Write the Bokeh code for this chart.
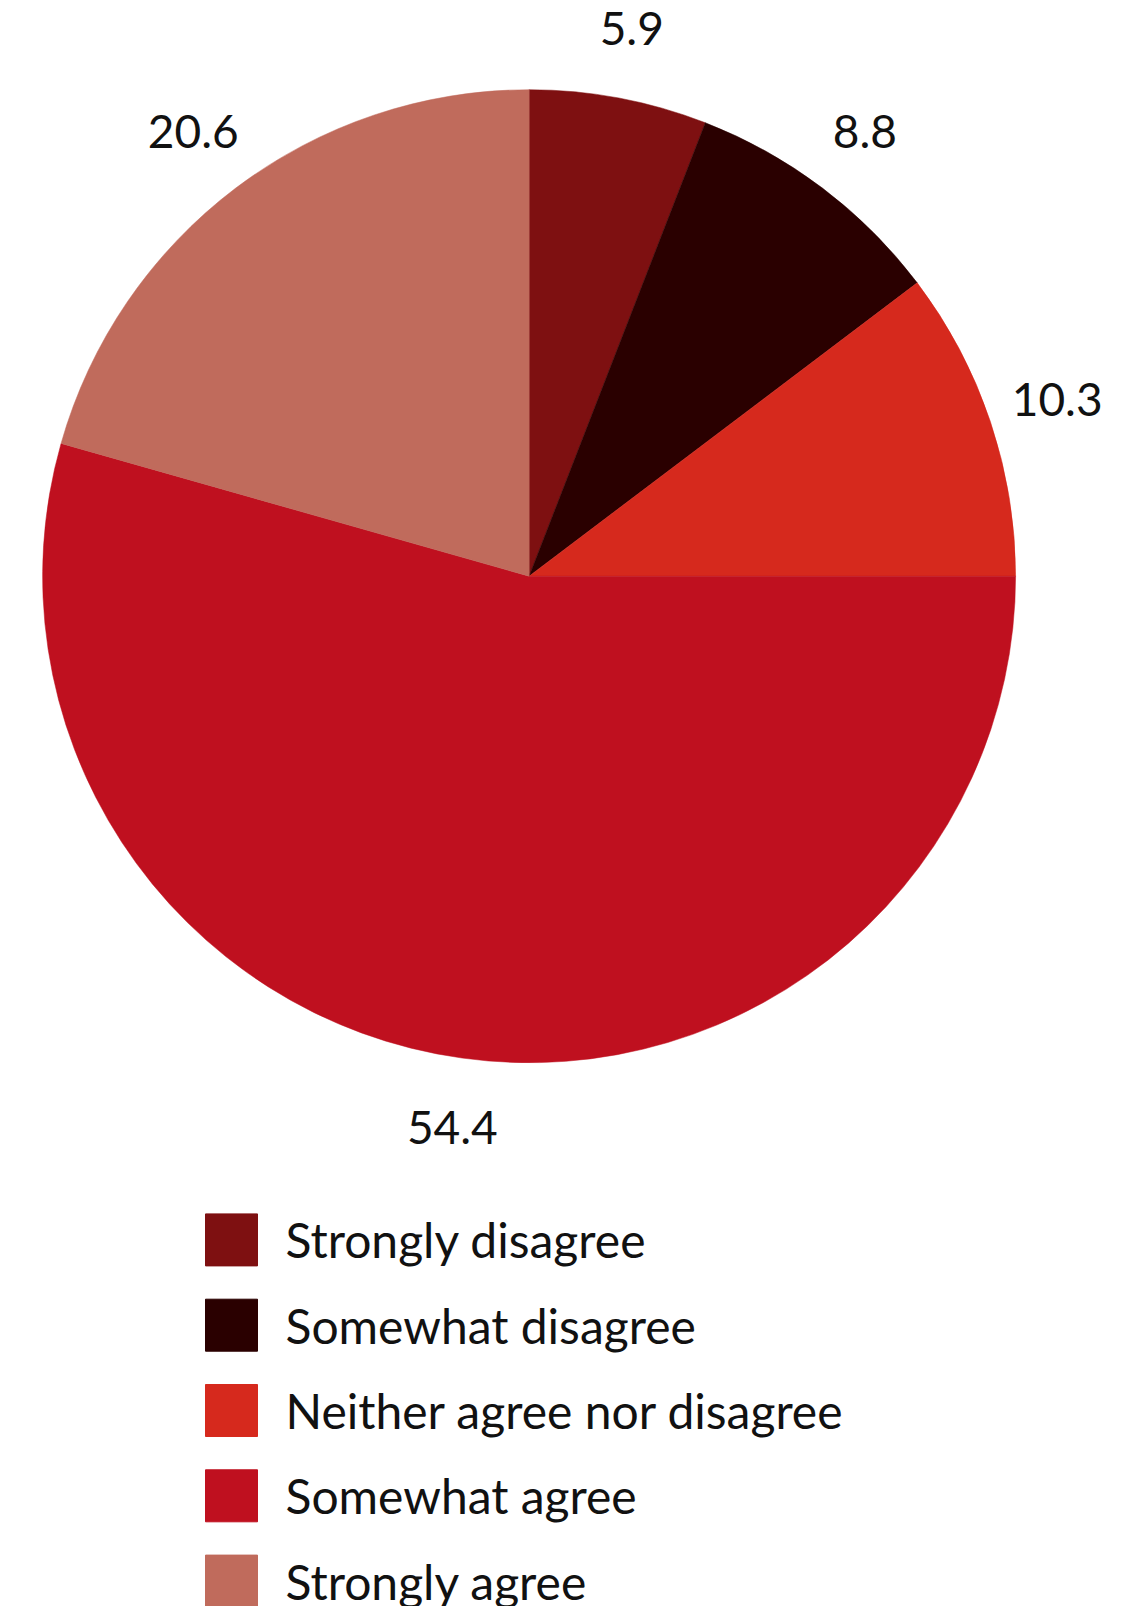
import math
from bokeh.plotting import figure
from bokeh.models import Range1d, ColumnDataSource
from bokeh.core.properties import value
from bokeh.embed import file_html
from bokeh.resources import INLINE

# ---- data ----
categories = ["Strongly disagree", "Somewhat disagree", "Neither agree nor disagree",
              "Somewhat agree", "Strongly agree"]
shares = [5.9, 8.8, 10.3, 54.4, 20.6]
colors = ["#7e1011", "#2a0000", "#d6291d", "#bf101f", "#c06b5c"]
value_labels = ["5.9", "8.8", "10.3", "54.4", "20.6"]

# ---- layout (pixels) ----
W, H = 1137, 1606
FONT = "Lato"
cx, cy = 528.6, H - 575.7
R = 486.5
R_LABEL = 557.0

total = sum(shares)
starts, ends, mids = [], [], []
cum = 0.0
for s in shares:
    a0 = math.pi / 2 - 2 * math.pi * cum / total
    cum += s
    a1 = math.pi / 2 - 2 * math.pi * cum / total
    starts.append(a1)
    ends.append(a0)
    mids.append((a0 + a1) / 2)

p = figure(width=W, height=H, output_backend="svg", toolbar_location=None,
           x_range=Range1d(0, W), y_range=Range1d(0, H),
           min_border=0, min_border_left=0, min_border_right=0,
           min_border_top=0, min_border_bottom=0)
p.axis.visible = False
p.grid.visible = False
p.outline_line_color = None
p.background_fill_color = "white"
p.border_fill_color = "white"

wsrc = ColumnDataSource(dict(x=[cx] * len(shares), y=[cy] * len(shares),
                             start=starts, end=ends, color=colors))
p.wedge(x="x", y="y", radius=R, start_angle="start", end_angle="end",
        direction="anticlock", fill_color="color", line_color="color",
        line_width=0.5, source=wsrc)

lsrc = ColumnDataSource(dict(
    x=[cx + R_LABEL * math.cos(m) for m in mids],
    y=[cy + R_LABEL * math.sin(m) for m in mids],
    t=value_labels))
p.text(x="x", y="y", text="t", source=lsrc, text_align="center",
       text_baseline="middle", text_font=value(FONT), text_font_size="46px",
       text_color="#111111")

# legend
row0 = H - 1239.4
step = 85.3
leg_y = [row0 - i * step for i in range(len(categories))]
p.rect(x=[231.0] * len(categories), y=leg_y, width=52, height=52,
       fill_color=colors, line_color=colors)
p.text(x=[285] * len(categories), y=leg_y, text=categories,
       text_align="left", text_baseline="middle", text_font=value(FONT),
       text_font_size="48px", text_color="#111111")

open("out.html", "w").write(file_html(p, INLINE))
